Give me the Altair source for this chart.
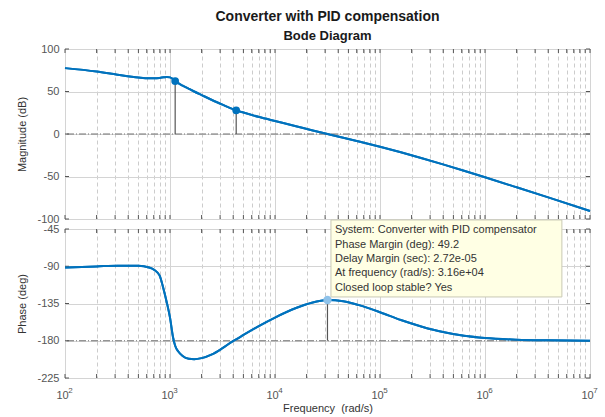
import altair as alt
import pandas as pd

# ---------------- data ----------------
freq = [100, 200, 316, 500, 630, 710, 795, 870, 933, 1000, 1070, 1120, 1200, 1320,
        1510, 1700, 2000, 2510, 3160, 3980, 4270, 5010, 7080, 10000, 15850, 22400,
        31600, 44700, 63100, 100000, 158000, 251000, 398000, 631000, 1000000,
        2000000, 4000000, 10000000]
mag_db = [77.5, 73.5, 69.8, 66.5, 65.6, 65.6, 66.0, 66.7, 67.1, 66.6, 64.6, 62.3,
          59.8, 56.9, 53.2, 50.0, 45.8, 40.0, 34.5, 29.2, 27.8, 25.2, 19.9, 15.3,
          9.2, 4.5, 0.0, -4.4, -8.9, -15.0, -21.5, -28.5, -35.7, -43.2, -50.9,
          -62.7, -74.6, -90.5]
phase_deg = [-91.5, -90.2, -89.3, -89.5, -91.5, -94.5, -101, -118, -134, -152, -176,
             -186, -193, -198.5, -201.8, -202.3, -201, -196.5, -189, -180.5, -178.3,
             -173, -162, -152, -140.5, -134, -130.8, -132.3, -137, -145.5, -155, -163,
             -169.5, -174, -176.7, -178.7, -179.5, -179.9]

mag_marker_freq = [1120, 4270]
mag_marker_db = [62.3, 27.8]
pm_freq = [31600]
pm_phase = [-130.8]

mag_ticks = [-100, -50, 0, 50, 100]
phase_ticks = [-225, -180, -135, -90, -45]
decades = [100, 1000, 10000, 100000, 1000000, 10000000]
exponents = ["2", "3", "4", "5", "6", "7"]
x_ticks = [m * 10 ** k for k in range(2, 7) for m in range(1, 10)] + [10 ** 7]

tip_lines = ["System: Converter with PID compensator",
             "Phase Margin (deg): 49.2",
             "Delay Margin (sec): 2.72e-05",
             "At frequency (rad/s): 3.16e+04",
             "Closed loop stable? Yes"]
tip_box_freq = [34100, 5400000]
tip_box_phase = [-34.1, -127.1]

# ---------------- styling ----------------
FONT = "Liberation Sans"
W, H1, H2 = 525, 170, 149
BLUE = "#0072BD"
DEC = "abs(log(datum.value)/LN10 - round(log(datum.value)/LN10)) < 0.001"
grid_color = {"condition": {"test": DEC, "value": "#d4d4d4"}, "value": "#cccccc"}
grid_dash = {"condition": {"test": DEC, "value": []}, "value": [4, 3]}

xscale = alt.Scale(type="log", domain=[100, 1e7], nice=False)
mag_scale = alt.Scale(domain=[-100, 100], nice=False, zero=False)
ph_scale = alt.Scale(domain=[-225, -45], nice=False, zero=False)

curve = pd.DataFrame({"f": freq, "mag": mag_db, "ph": phase_deg})
mk = pd.DataFrame({"f": mag_marker_freq, "mag": mag_marker_db, "zero": [0] * len(mag_marker_db)})
pm = pd.DataFrame({"f": pm_freq, "ph": pm_phase, "base": [-180] * len(pm_freq)})
xt = pd.DataFrame({"f": x_ticks})
mt = pd.DataFrame({"v": mag_ticks})
pt = pd.DataFrame({"v": phase_ticks})
ex = pd.DataFrame({"f": decades, "e": exponents})
box = pd.DataFrame({"f1": [tip_box_freq[0]], "f2": [tip_box_freq[1]],
                    "p1": [tip_box_phase[0]], "p2": [tip_box_phase[1]],
                    "t": ["\n".join(tip_lines)]})

x_top_axis = alt.Axis(values=x_ticks, grid=True, gridColor=grid_color, gridDash=grid_dash,
                      labels=False, ticks=False, domain=False, title=None)
x_bot_axis = alt.Axis(values=x_ticks, grid=True, gridColor=grid_color, gridDash=grid_dash,
                      ticks=False, domain=False, labelExpr=f"({DEC}) ? '10' : ''",
                      labelFlush=False, labelOverlap=False, labelOffset=-3,
                      labelPadding=11, labelFontSize=11, labelColor="#555555",
                      title="Frequency\u00a0 (rad/s)", titleFontSize=11,
                      titleFontWeight="normal", titleColor="#333333", titlePadding=2)


def y_axis(vals, title):
    return alt.Axis(values=vals, grid=True, gridColor="#d4d4d4", ticks=False, domain=False,
                    labelPadding=6, labelFontSize=11, labelColor="#555555",
                    labelOverlap=False, labelFlush=False, labelExpr="'' + datum.value",
                    title=title, titleFontSize=11, titleFontWeight="normal",
                    titleColor="#333333", titlePadding=9)


mag_axis = y_axis(mag_ticks, "Magnitude (dB)")
ph_axis = y_axis(phase_ticks, "Phase (deg)")


def make_enc(xaxis, sc, yaxis):
    def X(field):
        return alt.X(field, scale=xscale, axis=xaxis)

    def Y(field):
        return alt.Y(field, scale=sc, axis=yaxis)
    return X, Y


def inward_ticks(H, X, Y, yvals_df):
    bottom = alt.Chart(xt).mark_rule(color="#555555").encode(
        x=X("f:Q"), y=alt.value(H), y2=alt.value(H - 4))
    top = alt.Chart(xt).mark_rule(color="#555555").encode(
        x=X("f:Q"), y=alt.value(0), y2=alt.value(4))
    left = alt.Chart(yvals_df).mark_rule(color="#555555").encode(
        y=Y("v:Q"), x=alt.value(0), x2=alt.value(4))
    right = alt.Chart(yvals_df).mark_rule(color="#555555").encode(
        y=Y("v:Q"), x=alt.value(W), x2=alt.value(W - 4))
    return [bottom, top, left, right]


# ---------------- magnitude panel ----------------
X1, Y1 = make_enc(x_top_axis, mag_scale, mag_axis)
mag_line = alt.Chart(curve).mark_line(color=BLUE, strokeWidth=2, interpolate="monotone").encode(
    x=X1("f:Q"), y=Y1("mag:Q"))
zero_rule = alt.Chart(pd.DataFrame({"v": [0]})).mark_rule(
    color="#707070", strokeDash=[7, 2, 1, 2], strokeWidth=1).encode(y=Y1("v:Q"))
mk_rules = alt.Chart(mk).mark_rule(color="#555555", strokeWidth=1.2).encode(
    x=X1("f:Q"), y=Y1("mag:Q"), y2="zero:Q")
mk_pts = alt.Chart(mk).mark_point(filled=True, color=BLUE, size=60, opacity=1).encode(
    x=X1("f:Q"), y=Y1("mag:Q"))

top = alt.layer(mag_line, zero_rule, mk_rules, *inward_ticks(H1, X1, Y1, mt),
                mag_line, mk_pts).properties(
    width=W, height=H1,
    title=alt.TitleParams(text="Converter with PID compensation", subtitle="Bode Diagram",
                          font=FONT, subtitleFont=FONT, fontSize=14, subtitleFontSize=13,
                          fontWeight="bold", subtitleFontWeight="bold", color="#1a1a1a",
                          subtitleColor="#1a1a1a", anchor="middle", frame="group",
                          subtitlePadding=6, offset=0))

# ---------------- phase panel ----------------
X2, Y2 = make_enc(x_bot_axis, ph_scale, ph_axis)
ph_line = alt.Chart(curve).mark_line(color=BLUE, strokeWidth=2, interpolate="monotone").encode(
    x=X2("f:Q"), y=Y2("ph:Q"))
m180 = alt.Chart(pd.DataFrame({"v": [-180]})).mark_rule(
    color="#707070", strokeDash=[7, 2, 1, 2], strokeWidth=1).encode(y=Y2("v:Q"))
pm_rule = alt.Chart(pm).mark_rule(color="#555555", strokeWidth=1.2).encode(
    x=X2("f:Q"), y=Y2("ph:Q"), y2="base:Q")
tip_rect = alt.Chart(box).mark_rect(fill="#ffffe4", stroke="#c9c9b4", strokeWidth=1).encode(
    x=X2("f1:Q"), x2="f2:Q", y=Y2("p1:Q"), y2="p2:Q")
tip_text = alt.Chart(box).mark_text(align="left", baseline="alphabetic", lineBreak="\n",
                                    lineHeight=14.4, fontSize=11, font=FONT, color="#333333",
                                    dx=4, dy=13.3).encode(
    x=X2("f1:Q"), y=Y2("p1:Q"), text="t:N")
pm_pt = alt.Chart(pm).mark_point(filled=True, color="#8ec2ea", size=70, opacity=1).encode(
    x=X2("f:Q"), y=Y2("ph:Q"))
exp_text = alt.Chart(ex).mark_text(fontSize=8, font=FONT, color="#555555", dx=5.5, dy=13,
                                   baseline="middle", align="center").encode(
    x=X2("f:Q"), y=alt.value(H2), text="e:N")

bottom = alt.layer(ph_line, m180, pm_rule, *inward_ticks(H2, X2, Y2, pt), ph_line,
                   tip_rect, tip_text, pm_pt, exp_text).properties(width=W, height=H2)

chart = alt.vconcat(top, bottom, spacing=10, bounds="flush").properties(
    padding={"left": 16, "top": 9, "right": 5, "bottom": 5}
).configure_view(stroke="#555555", strokeWidth=1).configure_axis(
    labelFont=FONT, titleFont=FONT, labelOverlap=False).configure_text(font=FONT)

chart.save("out.html", embed_options={"renderer": "svg", "actions": False})
